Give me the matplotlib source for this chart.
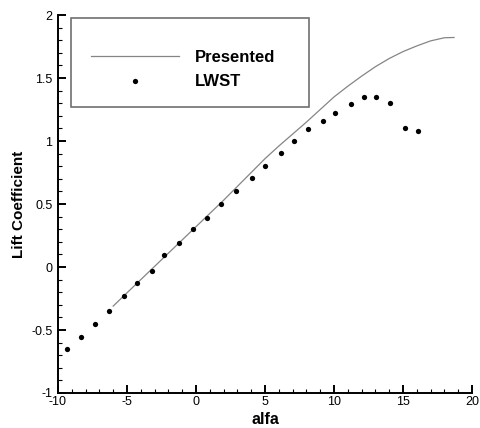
import numpy as np
from matplotlib import pyplot as plt
from matplotlib.patches import Rectangle
from matplotlib.ticker import MultipleLocator

plt.rcParams['font.family'] = ['Liberation Sans', 'DejaVu Sans']
plt.rcParams['axes.unicode_minus'] = False

# "Presented" computation (smooth curve)
alfa_calc = [-6, -4, -2, 0, 2, 4, 5, 6, 7, 8, 9, 10, 11, 12, 13, 14, 15, 16, 17, 18, 18.7]
cl_calc = [-0.31, -0.10, 0.11, 0.32, 0.53, 0.75, 0.86, 0.96, 1.055, 1.15, 1.25, 1.35, 1.435,
           1.515, 1.59, 1.655, 1.71, 1.755, 1.795, 1.82, 1.822]

# LWST wind tunnel points
alfa_lwst = [-9.33, -8.33, -7.34, -6.28, -5.24, -4.25, -3.21, -2.32, -1.23, -0.24,
             0.77, 1.81, 2.90, 4.03, 5.02, 6.18, 7.12, 8.12, 9.18, 10.10, 11.21,
             12.17, 13.02, 14.08, 15.14, 16.09]
cl_lwst = [-0.65, -0.553, -0.452, -0.347, -0.232, -0.127, -0.034, 0.093, 0.19, 0.30,
           0.389, 0.50, 0.606, 0.704, 0.802, 0.902, 0.998, 1.095, 1.161, 1.22, 1.294,
           1.347, 1.347, 1.30, 1.106, 1.082]

fig = plt.figure(figsize=(4.8, 4.28), dpi=100)
ax = fig.add_axes([0.1208, 0.0818, 0.8625, 0.883])

ax.plot(alfa_calc, cl_calc, color='#858585', lw=0.9, label='Presented')
ax.plot(alfa_lwst, cl_lwst, 'o', color='black', ms=3.8, mec='none', label='LWST')

ax.set_xlim(-10, 20)
ax.set_ylim(-1, 2)
ax.xaxis.set_major_locator(MultipleLocator(5))
ax.xaxis.set_minor_locator(MultipleLocator(1))
ax.yaxis.set_major_locator(MultipleLocator(0.5))
ax.yaxis.set_minor_locator(MultipleLocator(0.1))
ax.set_yticks([-1, -0.5, 0, 0.5, 1, 1.5, 2])
ax.set_yticklabels(['-1', '-0.5', '0', '0.5', '1', '1.5', '2'])

for s in ('top', 'right'):
    ax.spines[s].set_visible(False)
for s in ('left', 'bottom'):
    ax.spines[s].set_linewidth(1.4)
ax.tick_params(which='major', direction='in', length=6, width=1.4, labelsize=9)
ax.tick_params(axis='x', which='major', pad=2)
ax.tick_params(axis='y', which='major', pad=4)
ax.tick_params(which='minor', direction='in', length=3, width=0.8)

ax.set_xlabel('alfa', fontsize=11.5, fontweight='bold', labelpad=3)
ax.set_ylabel('Lift Coefficient', fontsize=11, fontweight='bold', labelpad=4)

# legend frame
ax.add_patch(Rectangle((0.031, 0.757), 0.575, 0.235, transform=ax.transAxes,
                       fill=False, edgecolor='#707070', lw=1.2, clip_on=False))
ax.legend(loc='center left', bbox_to_anchor=(0.0797, 0.855), frameon=False,
          borderpad=0, borderaxespad=0, handlelength=5.3, handletextpad=0.95,
          labelspacing=0.55, prop={'size': 12, 'weight': 'bold'})

fig.savefig('out.png', dpi=100)
